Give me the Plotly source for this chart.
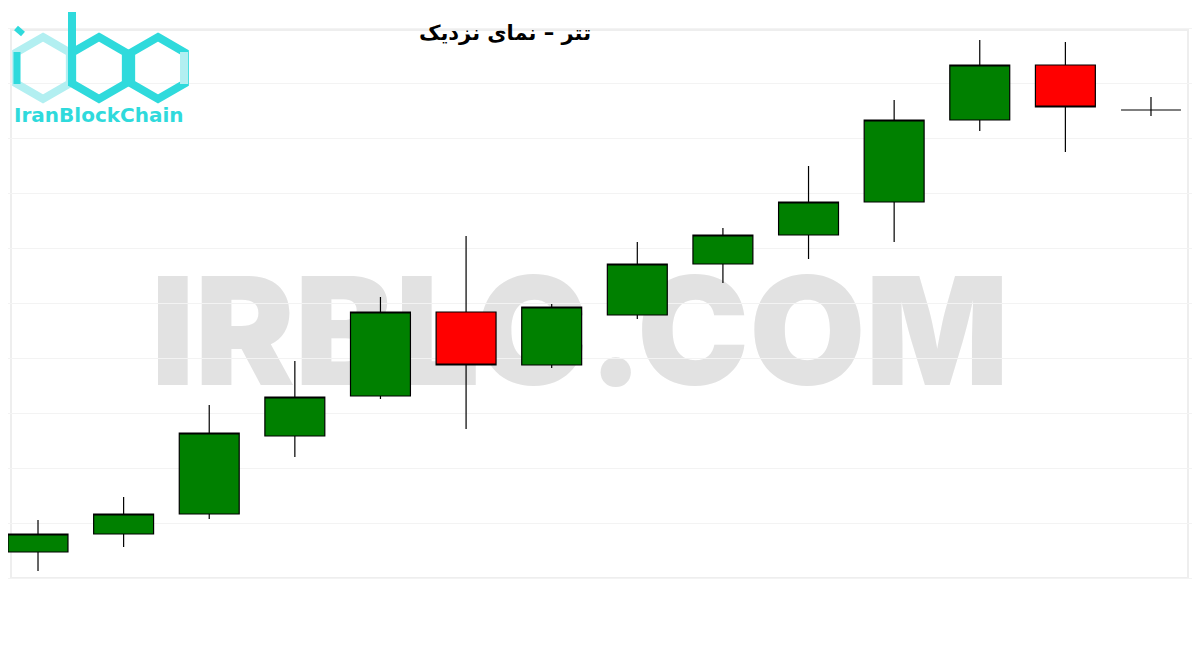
import plotly.graph_objects as go
import math

# ---- data (arbitrary price units) ----
idx = list(range(14))
opens  = [48, 66, 86, 164, 204, 288, 235, 285, 336, 365, 398, 480, 535, 490]
highs  = [80, 103, 195, 239, 303, 364, 296, 358, 372, 434, 500, 560, 558, 503]
lows   = [29, 53, 81, 143, 201, 171, 232, 281, 317, 341, 358, 469, 448, 484]
closes = [66, 86, 167, 203, 288, 235, 293, 336, 365, 398, 480, 535, 493, 490]
grid_vals = [22, 77, 132, 187, 242, 297, 352, 407, 462, 517, 572]

title_text = "تتر – نمای نزدیک"
watermark_text = "IRBLC.COM"
logo_text = "IranBlockChain"

W, H = 1200, 650
OFF = 8  # page body margin offset

fig = go.Figure()
fig.add_trace(go.Candlestick(
    x=idx, open=opens, high=highs, low=lows, close=closes,
    increasing=dict(fillcolor="#008000", line=dict(color="black", width=1.2)),
    decreasing=dict(fillcolor="#ff0000", line=dict(color="black", width=1.2)),
    whiskerwidth=0, showlegend=False, hoverinfo="skip",
))

def px(x, y):
    return (x - OFF) / W, 1 - (y - OFF) / H

def hex_path(cx, cy, r):
    pts = []
    for a in [90, 30, -30, -90, -150, 150]:
        t = math.radians(a)
        pts.append(px(cx + r * math.cos(t), cy - r * math.sin(t)))
    return "M " + " L ".join(f"{x:.5f},{y:.5f}" for x, y in pts) + " Z"

def seg_path(p):
    pts = [px(x, y) for x, y in p]
    return "M " + " L ".join(f"{x:.5f},{y:.5f}" for x, y in pts)

cyan = "#2fdadc"
light = "#b2eff1"
shapes = []
fx0, fy0 = px(11, 30)
fx1, fy1 = px(1188, 578)
shapes.append(dict(type="rect", xref="paper", yref="paper", x0=fx0, y0=fy1, x1=fx1, y1=fy0,
                   line=dict(color="#eeeeee", width=2), layer="below"))
shapes.append(dict(type="rect", xref="paper", yref="paper",
                   x0=px(140, 0)[0], x1=px(1020, 0)[0], y0=px(0, 388)[1], y1=px(0, 262)[1],
                   line=dict(width=0), fillcolor="rgba(0,0,0,0)", layer="below",
                   label=dict(text=watermark_text, font=dict(size=150, color="#e2e2e2",
                              family="Inter", weight=900),
                              textposition="middle center")))
shapes.append(dict(type="path", xref="paper", yref="paper", path=hex_path(43, 68, 31),
                   line=dict(color=light, width=8), layer="above"))
shapes.append(dict(type="path", xref="paper", yref="paper", path=hex_path(99, 68, 31),
                   line=dict(color=cyan, width=8), layer="above"))
shapes.append(dict(type="path", xref="paper", yref="paper", path=hex_path(158, 68, 31),
                   line=dict(color=cyan, width=8), layer="above"))
shapes.append(dict(type="path", xref="paper", yref="paper",
                   path=seg_path([(17, 52), (17, 84)]), line=dict(color=cyan, width=7), layer="above"))
shapes.append(dict(type="path", xref="paper", yref="paper",
                   path=seg_path([(16, 28), (23, 34)]), line=dict(color=cyan, width=6), layer="above"))
shapes.append(dict(type="path", xref="paper", yref="paper",
                   path=seg_path([(72, 12), (72, 86)]), line=dict(color=cyan, width=8), layer="above"))
shapes.append(dict(type="path", xref="paper", yref="paper",
                   path=seg_path([(184, 52), (184, 84)]), line=dict(color=light, width=8), layer="above"))

x_lo = -(38 - OFF) / 85.6
x_hi = 13 + (W + OFF - 1151) / 85.6
fig.update_layout(
    width=W, height=H,
    margin=dict(l=0, r=0, t=0, b=0),
    paper_bgcolor="white", plot_bgcolor="white",
    boxgap=0.3, boxgroupgap=0.0,
    title=dict(text=title_text, x=px(505, 0)[0], xanchor="center", y=px(0, 33)[1], yanchor="middle",
               font=dict(family="DejaVu Sans", size=21, color="black", weight="bold")),
    xaxis=dict(range=[x_lo, x_hi], showgrid=False, zeroline=False,
               showticklabels=False, showline=False, rangeslider=dict(visible=False), fixedrange=True),
    yaxis=dict(range=[-50 - OFF, 600 - OFF], showgrid=True, gridcolor="#f3f3f3",
               tickmode="array", tickvals=grid_vals,
               zeroline=False, showticklabels=False, showline=False, fixedrange=True),
    shapes=shapes,
    annotations=[dict(text=logo_text, xref="paper", yref="paper", x=px(99, 0)[0], y=px(0, 115)[1],
                      xanchor="center", yanchor="middle", showarrow=False,
                      font=dict(family="DejaVu Sans", size=20, color=cyan, weight="bold"))],
)

fig.write_html("out.html")
